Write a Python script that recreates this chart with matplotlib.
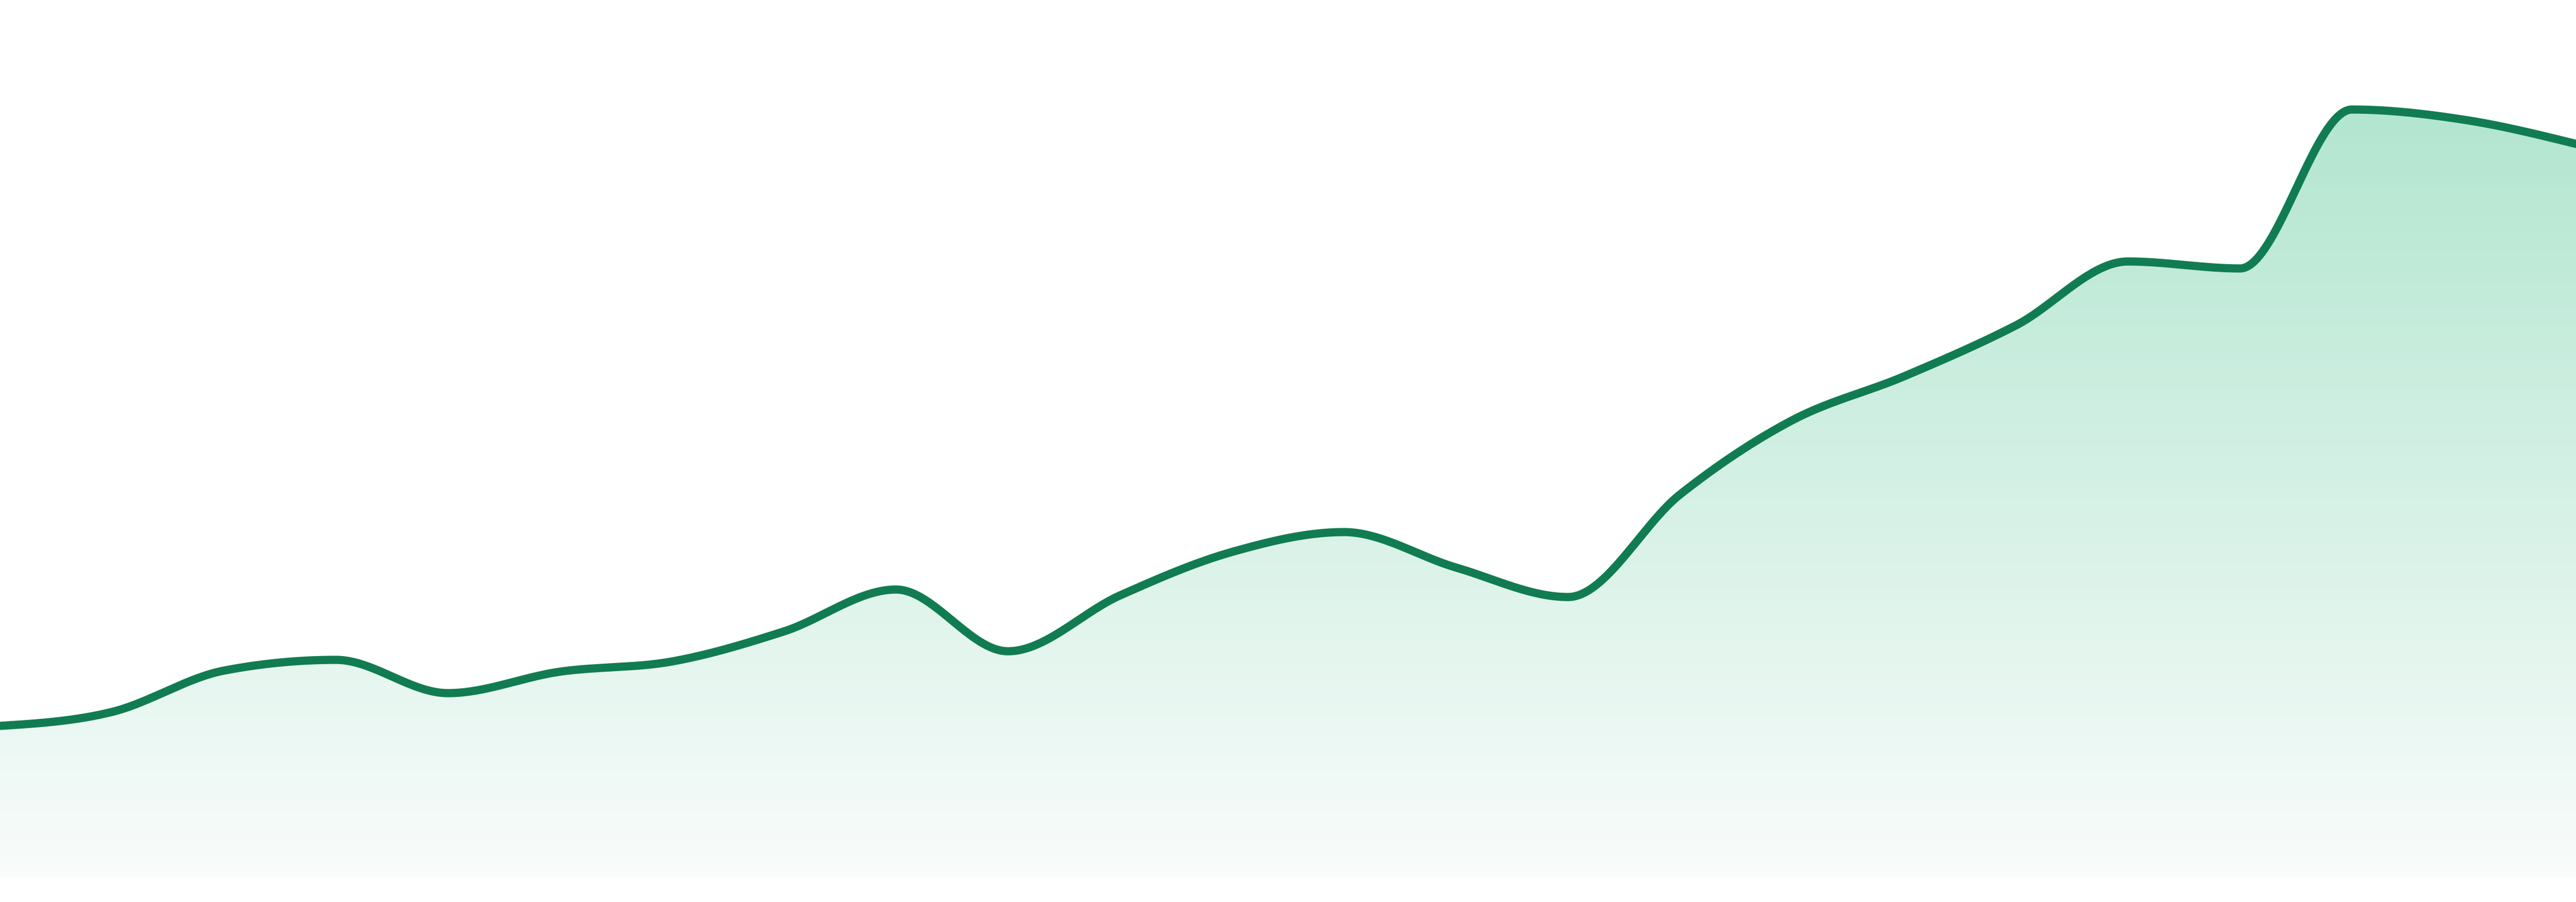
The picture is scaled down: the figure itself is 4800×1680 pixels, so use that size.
import numpy as np
import matplotlib.pyplot as plt
from matplotlib.colors import LinearSegmentedColormap

# 24 evenly spaced samples, value = height above the baseline
points = np.arange(24)
values = np.array([283, 309, 386, 406, 344, 384, 403, 459, 537, 422, 526, 607,
                   644, 578, 523, 714, 852, 934, 1029, 1148, 1135, 1431, 1412, 1367])

line_color = "#117c52"
fill_top = "#b2e6d0"
fill_bottom = "#f9fcfb"


def monotone_x(x, y, per=80):
    # same idea as d3.curveMonotoneX (Steffen slopes + cubic hermite)
    x = np.asarray(x, float)
    y = np.asarray(y, float)
    h = np.diff(x)
    s = np.diff(y) / h
    t = np.zeros_like(y)
    for i in range(1, len(y) - 1):
        p = (s[i - 1] * h[i] + s[i] * h[i - 1]) / (h[i - 1] + h[i])
        t[i] = (np.sign(s[i - 1]) + np.sign(s[i])) * min(abs(s[i - 1]), abs(s[i]), 0.5 * abs(p))
    t[0] = (3 * s[0] - t[1]) / 2
    t[-1] = (3 * s[-1] - t[-2]) / 2
    xs, ys = [], []
    u = np.linspace(0, 1, per, endpoint=False)
    for i in range(len(h)):
        h00 = 2 * u**3 - 3 * u**2 + 1
        h10 = u**3 - 2 * u**2 + u
        h01 = -2 * u**3 + 3 * u**2
        h11 = u**3 - u**2
        xs.append(x[i] + u * h[i])
        ys.append(h00 * y[i] + h10 * h[i] * t[i] + h01 * y[i + 1] + h11 * h[i] * t[i + 1])
    xs.append([x[-1]])
    ys.append([y[-1]])
    return np.concatenate(xs), np.concatenate(ys)


cx, cy = monotone_x(points, values)

fig = plt.figure(figsize=(48, 16.8), dpi=100)
fig.patch.set_facecolor("white")
ax = fig.add_axes([0, 45 / 1680, 1, 1635 / 1680])
ax.axis("off")

area = ax.fill_between(cx, cy, 0, color="none", lw=0)
cmap = LinearSegmentedColormap.from_list("g", [fill_bottom, fill_top])
grad = np.linspace(0, 1, 256).reshape(-1, 1)
img = ax.imshow(grad, cmap=cmap, origin="lower", aspect="auto",
                extent=[points[0], points[-1], 0, values.max()], zorder=1)
img.set_clip_path(area.get_paths()[0], transform=ax.transData)

ax.plot(cx, cy, color=line_color, lw=11, solid_joinstyle="round", zorder=3)

ax.set_xlim(points[0], points[-1])
ax.set_ylim(0, 1635)

fig.savefig("out.png", dpi=100, facecolor="white")
